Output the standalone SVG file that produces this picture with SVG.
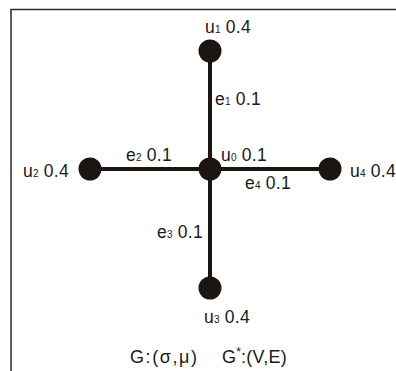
<svg xmlns="http://www.w3.org/2000/svg" width="396" height="371" viewBox="0 0 396 371">
<style>
.t{font-family:"Liberation Sans",Arial,sans-serif;font-size:17.5px;fill:#1a1a1a;letter-spacing:0.3px}
.s{font-size:10px;letter-spacing:0}
.e{stroke:#1c1512;stroke-width:4;stroke-linecap:butt}
.n{fill:#1c1512}
.b{stroke:#2a2a2a;stroke-width:1.5;fill:none}
</style>
<rect width="396" height="371" fill="#ffffff"/>
<path class="b" d="M11,371 V9.5 H396"/>
<g id="connectors">
<line class="e" x1="210" y1="51" x2="210" y2="288"/>
<line class="e" x1="90" y1="169" x2="330" y2="169"/>
</g>
<g id="edge-labels">
<text class="t" x="215" y="105">e<tspan class="s">1</tspan> 0.1</text>
<text class="t" x="126" y="161">e<tspan class="s">2</tspan> 0.1</text>
<text class="t" x="157" y="238">e<tspan class="s">3</tspan> 0.1</text>
<text class="t" x="245" y="189">e<tspan class="s">4</tspan> 0.1</text>
</g>
<g id="u0"><circle class="n" cx="210" cy="169" r="11.5"/><text class="t" x="221" y="161">u<tspan class="s">0</tspan> 0.1</text></g>
<g id="u1"><circle class="n" cx="210" cy="51" r="11.5"/><text class="t" x="205" y="33">u<tspan class="s">1</tspan> 0.4</text></g>
<g id="u2"><circle class="n" cx="90" cy="169" r="11.5"/><text class="t" x="23" y="177">u<tspan class="s">2</tspan> 0.4</text></g>
<g id="u3"><circle class="n" cx="210" cy="288" r="11.5"/><text class="t" x="204" y="323">u<tspan class="s">3</tspan> 0.4</text></g>
<g id="u4"><circle class="n" cx="330" cy="169" r="11.5"/><text class="t" x="350" y="177">u<tspan class="s">4</tspan> 0.4</text></g>
<g id="caption">
<text class="t" x="130" y="363" style="font-size:18px;letter-spacing:1.6px">G:(σ,μ)</text>
<text class="t" x="222" y="363" style="font-size:18px">G<tspan class="s" dy="-7" style="font-size:12px">*</tspan><tspan dy="7">:(V,E)</tspan></text>
</g>
</svg>
